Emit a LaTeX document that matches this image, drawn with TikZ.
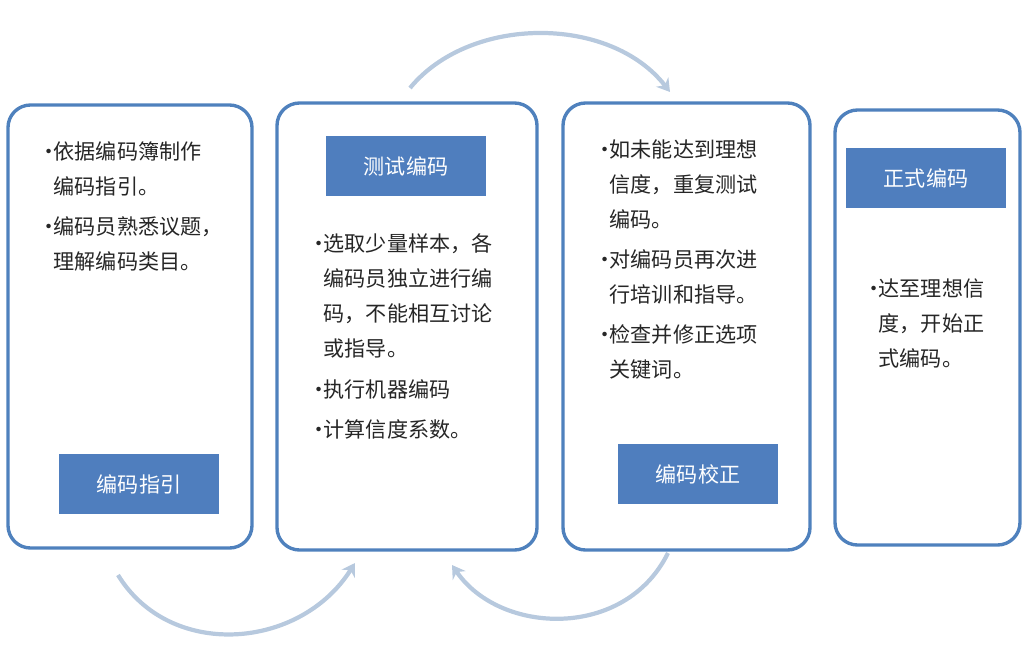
\documentclass[tikz,border=0pt]{standalone}
\usepackage{fontspec}
\newfontfamily\cjk{Noto Sans CJK SC}
\usetikzlibrary{arrows.meta}
\definecolor{frameblue}{HTML}{4F81BD}
\definecolor{titleblue}{HTML}{4F7EBE}
\definecolor{arcblue}{HTML}{B7C9DE}
\newcommand\bul{\makebox[11pt][l]{\textbullet}}
\newcommand\ind{\hspace*{11pt}}
\tikzset{
  stage/.style={draw=frameblue, line width=2.4pt, rounded corners=16pt, fill=white},
  title/.style={fill=titleblue, text=white, minimum width=160\pxu, minimum height=59\pxu,
    font=\cjk\fontsize{15}{18}\selectfont},
  txt/.style={anchor=north west, align=left, inner sep=0pt, text=black!85,
    font=\cjk\fontsize{15}{25}\selectfont},
  loop/.style={draw=arcblue, line width=3pt, -{Stealth[length=9pt,width=11pt]}},
}
\newcommand\pxu{pt*0.7113}
\begin{document}
\begin{tikzpicture}[x=0.025cm, y=-0.025cm]
  \useasboundingbox (0,0) rectangle (1032,664);
  % stages
  \draw[stage] (8,105) rectangle (252,548);
  \draw[stage] (277,103) rectangle (537,550);
  \draw[stage] (563,103) rectangle (810,550);
  \draw[stage] (835,110) rectangle (1020,545);
  % titles
  \node[title, minimum width=4cm, minimum height=1.48cm] (guide) at (139,484) {编码指引};
  \node[title, minimum width=4cm, minimum height=1.48cm] (test) at (406,166) {测试编码};
  \node[title, minimum width=4cm, minimum height=1.48cm] (fix) at (698,474) {编码校正};
  \node[title, minimum width=4cm, minimum height=1.48cm] (final) at (926,178) {正式编码};
  % texts
  \node[txt] (t1a) at (38,141) {\bul 依据编码簿制作\\\ind 编码指引。};
  \node[txt] (t1b) at (38,216) {\bul 编码员熟悉议题，\\\ind 理解编码类目。};
  \node[txt] (t2a) at (308,233) {\bul 选取少量样本，各\\\ind 编码员独立进行编\\\ind 码，不能相互讨论\\\ind 或指导。};
  \node[txt] (t2b) at (308,379) {\bul 执行机器编码};
  \node[txt] (t2c) at (308,419) {\bul 计算信度系数。};
  \node[txt] (t3a) at (594,139) {\bul 如未能达到理想\\\ind 信度，重复测试\\\ind 编码。};
  \node[txt] (t3b) at (594,249) {\bul 对编码员再次进\\\ind 行培训和指导。};
  \node[txt] (t3c) at (594,324) {\bul 检查并修正选项\\\ind 关键词。};
  \node[txt] (t4a) at (863,278) {\bul 达至理想信\\\ind 度，开始正\\\ind 式编码。};
  % loops
  \coordinate (a1) at (410,88);
  \coordinate (a2) at (670,92);
  \draw[loop] (a1) .. controls (470,15) and (610,15) .. (a2);
  \coordinate (b1) at (118,575);
  \coordinate (b2) at (355,563);
  \draw[loop] (b1) .. controls (170,660) and (300,650) .. (b2);
  \coordinate (c1) at (668,553);
  \coordinate (c2) at (452,565);
  \draw[loop] (c1) .. controls (625,640) and (500,635) .. (c2);
\end{tikzpicture}
\end{document}
